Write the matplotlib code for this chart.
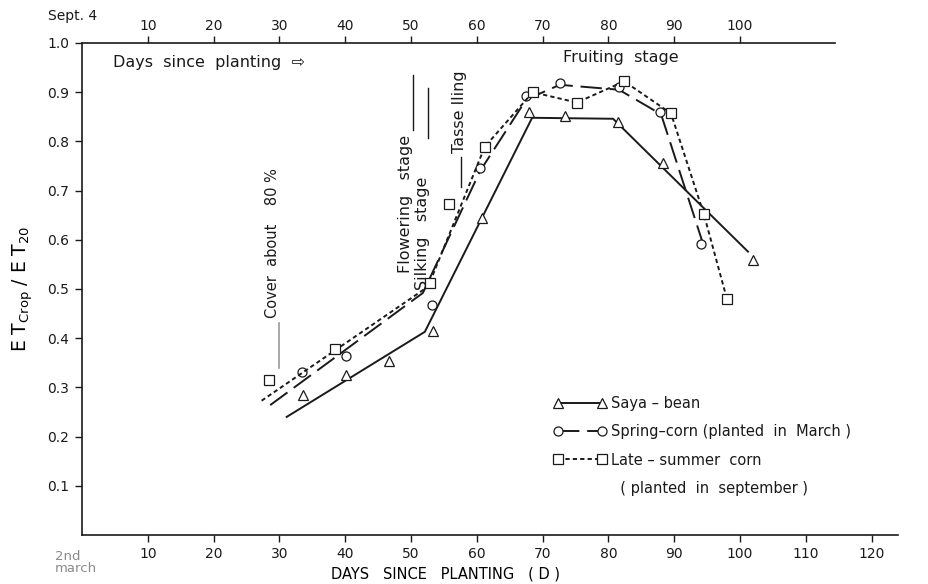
import matplotlib
matplotlib.use("Agg")
import matplotlib.pyplot as plt
from matplotlib.lines import Line2D

# ==========================================
# DATA
# ==========================================

# Saya-bean : markers and hand-drawn curve
soy_days = [33.6, 40.1, 46.7, 53.3, 60.8, 67.9, 73.4, 81.5, 88.3, 102.0]
soy_ratio = [0.284, 0.325, 0.354, 0.415, 0.644, 0.859, 0.851, 0.840, 0.756, 0.558]
soy_line_days = [31.1, 52.1, 68.4, 80.7, 101.2]
soy_line_ratio = [0.240, 0.413, 0.848, 0.846, 0.576]

# Spring-corn (planted in March)
spring_days = [33.4, 40.1, 53.2, 60.5, 67.5, 72.6, 81.6, 87.8, 94.1]
spring_ratio = [0.331, 0.364, 0.468, 0.746, 0.893, 0.918, 0.910, 0.859, 0.591]
spring_line_days = [28.6, 51.8, 60.5, 67.5, 72.6, 81.6, 88.0, 94.3]
spring_line_ratio = [0.264, 0.492, 0.740, 0.885, 0.915, 0.905, 0.855, 0.595]

# Late-summer corn (planted in september)
late_days = [28.4, 38.5, 52.9, 55.8, 61.2, 68.5, 75.2, 82.4, 89.5, 94.5, 98.0]
late_ratio = [0.315, 0.378, 0.513, 0.673, 0.789, 0.900, 0.879, 0.922, 0.857, 0.652, 0.480]
late_line_days = [27.3, 52.6, 61.2, 68.5, 75.2, 82.4, 89.5, 94.5, 98.0]
late_line_ratio = [0.273, 0.505, 0.789, 0.900, 0.879, 0.922, 0.857, 0.652, 0.480]

bottom_ticks = [10, 20, 30, 40, 50, 60, 70, 80, 90, 100, 110, 120]
top_ticks = [10, 20, 30, 40, 50, 60, 70, 80, 90, 100]
y_ticks = [0.1, 0.2, 0.3, 0.4, 0.5, 0.6, 0.7, 0.8, 0.9, 1.0]

# ==========================================
# STYLE
# ==========================================

INK = "#1a1a1a"
plt.rcParams["font.family"] = ["DejaVu Sans"]
plt.rcParams["text.color"] = INK

LONG_DASH = (0, (11, 4))
SHORT_DASH = (0, (2.2, 1.6))
MK = dict(markersize=6.5, markerfacecolor="white", markeredgecolor=INK,
          markeredgewidth=0.9)

fig = plt.figure(figsize=(9.29, 5.84), dpi=100)
ax = fig.add_axes([82 / 929, 49 / 584, 816 / 929, 492 / 584])

# ==========================================
# CURVES
# ==========================================

ax.plot(soy_line_days, soy_line_ratio, color=INK, lw=1.4, linestyle="-")
ax.plot(soy_days, soy_ratio, linestyle="none", marker="^", **MK)

ax.plot(spring_line_days, spring_line_ratio, color=INK, lw=1.4, linestyle=LONG_DASH)
ax.plot(spring_days, spring_ratio, linestyle="none", marker="o", **MK)

ax.plot(late_line_days, late_line_ratio, color=INK, lw=1.4, linestyle=SHORT_DASH)
ax.plot(late_days, late_ratio, linestyle="none", marker="s", **MK)

# ==========================================
# AXES
# ==========================================

ax.set_xlim(0, 124)
ax.set_ylim(0, 1.0)

ax.spines["right"].set_visible(False)
ax.spines["top"].set_visible(False)
for s in ["left", "bottom"]:
    ax.spines[s].set_linewidth(1.2)
    ax.spines[s].set_color(INK)

ax.set_xticks(bottom_ticks)
ax.set_yticks(y_ticks)
ax.set_yticklabels([f"{v:.1f}" for v in y_ticks])
ax.tick_params(axis="both", direction="out", length=5, width=1, colors=INK,
               labelsize=10, pad=4)

# top axis : days since planting, late-summer corn (Sept. 4)
top = ax.secondary_xaxis("top")
top.set_xticks(top_ticks)
top.tick_params(direction="out", length=5, width=1, colors=INK, labelsize=10, pad=2)
top.spines["top"].set_bounds(0, 114.5)
top.spines["top"].set_linewidth(1.2)
top.spines["top"].set_color(INK)

ax.text(-1.5, 1.04, "Sept. 4", fontsize=10, ha="center", va="bottom",
        clip_on=False)
ax.text(-4.1, -0.03, "2nd\nmarch", fontsize=9.5, color="#8a8a8a", ha="left",
        va="top", linespacing=0.95, clip_on=False)

ax.set_xlabel("DAYS   SINCE   PLANTING   ( D )", fontsize=10.5)
ax.xaxis.set_label_coords(0.446, -0.064)
ax.set_ylabel(r"E T$_{\rm Crop}$ / E T$_{20}$", fontsize=13.5)
ax.yaxis.set_label_coords(-0.058, 0.5)

# ==========================================
# ANNOTATIONS
# ==========================================

ax.text(4.7, 0.96, "Days  since  planting  \u21e8", fontsize=11.5, ha="left",
        va="center")
ax.text(81.9, 0.97, "Fruiting  stage", fontsize=11.5, ha="center", va="center")

ax.text(28.9, 0.441, "Cover  about    80 %", rotation=90, fontsize=10.5,
        ha="center", va="bottom")
ax.plot([29.9, 29.9], [0.339, 0.431], color="#9a9a9a", lw=1.2)

ax.text(49.1, 0.533, "Flowering   stage", rotation=90, fontsize=11.5,
        ha="center", va="bottom")
ax.plot([50.3, 50.3], [0.823, 0.935], color=INK, lw=1.0)

ax.text(51.8, 0.498, "Silking   stage", rotation=90, fontsize=11.5,
        ha="center", va="bottom")
ax.plot([52.6, 52.6], [0.807, 0.909], color=INK, lw=1.0)

ax.text(57.4, 0.776, "Tasse lling", rotation=90, fontsize=11.5,
        ha="center", va="bottom")
ax.plot([57.6, 57.6], [0.707, 0.768], color=INK, lw=1.0)

# ==========================================
# LEGEND
# ==========================================

handles = [
    Line2D([], [], color=INK, lw=1.4, linestyle="-", marker="^", **MK),
    Line2D([], [], color=INK, lw=1.4, linestyle=LONG_DASH, marker="o", **MK),
    Line2D([], [], color=INK, lw=1.4, linestyle=SHORT_DASH, marker="s", **MK),
    Line2D([], [], linestyle="none"),
]
labels = [
    "Saya \u2013 bean",
    "Spring\u2013corn (planted  in  March )",
    "Late \u2013 summer  corn",
    "  ( planted  in  september )",
]
ax.legend(handles, labels, loc="upper left", bbox_to_anchor=(0.578, 0.283),
          frameon=False, numpoints=2, handlelength=3.6, handletextpad=0.3,
          labelspacing=0.92, borderpad=0, borderaxespad=0, fontsize=10.5)

fig.savefig("out.png", dpi=100)
